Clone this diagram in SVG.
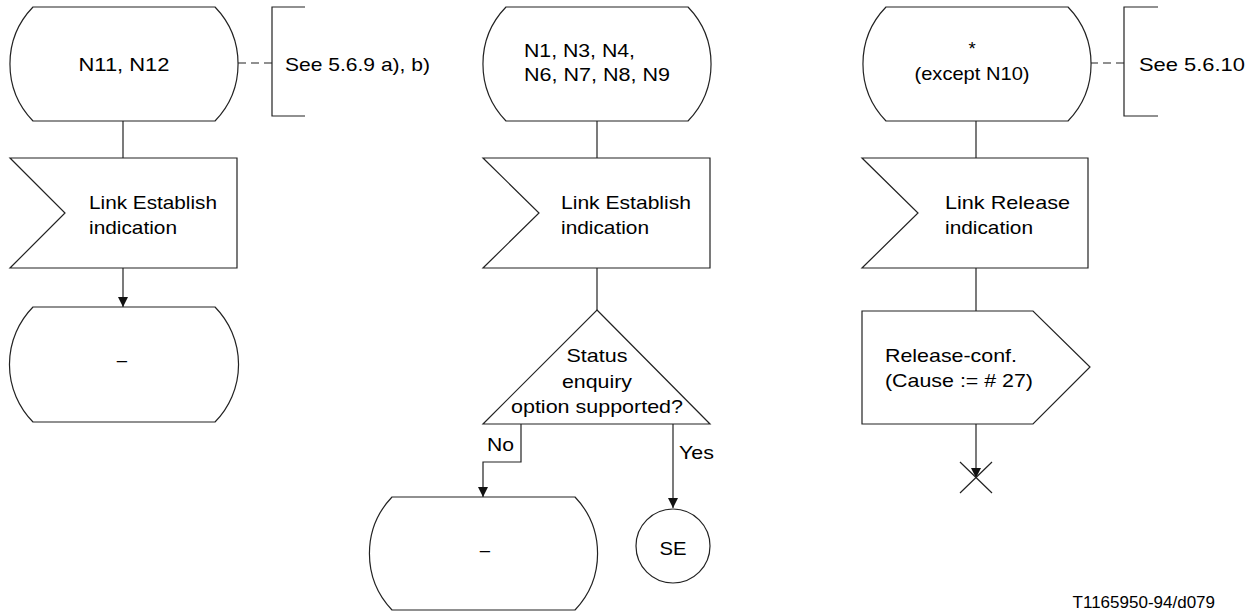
<svg xmlns="http://www.w3.org/2000/svg" width="1255" height="614" viewBox="0 0 1255 614">
<style>
.s{fill:#fff;stroke:#222;stroke-width:1.2}
.l{fill:none;stroke:#222;stroke-width:1.2}
.d{fill:none;stroke:#222;stroke-width:1.2;stroke-dasharray:8 5}
text{font-family:"Liberation Sans",Arial,sans-serif;font-size:18.5px;fill:#000}
.m{text-anchor:middle}
</style>
<defs>
<marker id="ah" markerUnits="userSpaceOnUse" markerWidth="10" markerHeight="10" refX="10" refY="5" orient="auto">
<path d="M0,0 L10,5 L0,10 Z" fill="#111"/>
</marker>
</defs>
<g id="connectors">
<path class="l" d="M123,121 V158"/>
<path class="l" d="M123,268 V307" marker-end="url(#ah)"/>
<path class="l" d="M597,121 V158"/>
<path class="l" d="M597,268 V310"/>
<path class="l" d="M521,424 V462 H483 V497" marker-end="url(#ah)"/>
<path class="l" d="M673,424 V508" marker-end="url(#ah)"/>
<path class="l" d="M976,121 V158"/>
<path class="l" d="M976,268 V311"/>
<path class="l" d="M976,424 V478" marker-end="url(#ah)"/>
<path class="d" d="M238,63 H272"/>
<path class="d" d="M1090,63 H1124"/>
</g>
<g id="state1">
<path class="s" d="M33,7 H215 A82,82 0 0 1 215,121 H33 A82,82 0 0 1 33,7 Z"/>
<text class="m" x="124" y="71" textLength="91" lengthAdjust="spacingAndGlyphs">N11, N12</text>
</g>
<g id="comment1">
<path class="l" d="M305,7 H272 V116 H305"/>
<text x="285" y="71" textLength="145" lengthAdjust="spacingAndGlyphs">See 5.6.9 a), b)</text>
</g>
<g id="input1">
<path class="s" d="M10,158 H237 V268 H10 L65,213 Z"/>
<text x="89" y="209" textLength="128" lengthAdjust="spacingAndGlyphs">Link Establish</text>
<text x="89" y="234" textLength="88" lengthAdjust="spacingAndGlyphs">indication</text>
</g>
<g id="state2">
<path class="s" d="M33,307 H215 A82,82 0 0 1 215,422 H33 A82,82 0 0 1 33,307 Z"/>
<text class="m" x="122" y="366">–</text>
</g>
<g id="state3">
<path class="s" d="M506,7 H688 A82,82 0 0 1 688,121 H506 A82,82 0 0 1 506,7 Z"/>
<text x="524" y="57" textLength="111" lengthAdjust="spacingAndGlyphs">N1, N3, N4,</text>
<text x="524" y="81" textLength="146" lengthAdjust="spacingAndGlyphs">N6, N7, N8, N9</text>
</g>
<g id="input2">
<path class="s" d="M483,158 H710 V268 H483 L539,213 Z"/>
<text x="561" y="209" textLength="130" lengthAdjust="spacingAndGlyphs">Link Establish</text>
<text x="561" y="234" textLength="88" lengthAdjust="spacingAndGlyphs">indication</text>
</g>
<g id="decision">
<path class="s" d="M597,310 L710,424 H483 Z"/>
<text class="m" x="597" y="362" textLength="61" lengthAdjust="spacingAndGlyphs">Status</text>
<text class="m" x="597" y="387.5" textLength="70" lengthAdjust="spacingAndGlyphs">enquiry</text>
<text class="m" x="597" y="413" textLength="172" lengthAdjust="spacingAndGlyphs">option supported?</text>
<text x="487" y="451" textLength="27" lengthAdjust="spacingAndGlyphs">No</text>
<text x="679" y="459" textLength="35" lengthAdjust="spacingAndGlyphs">Yes</text>
</g>
<g id="state4">
<path class="s" d="M392,497 H575 A82,82 0 0 1 575,610 H392 A82,82 0 0 1 392,497 Z"/>
<text class="m" x="485" y="556">–</text>
</g>
<g id="connectorSE">
<circle class="s" cx="673" cy="546" r="37"/>
<text class="m" x="673" y="555" textLength="27" lengthAdjust="spacingAndGlyphs">SE</text>
</g>
<g id="state5">
<path class="s" d="M886,7 H1068 A82,82 0 0 1 1068,121 H886 A82,82 0 0 1 886,7 Z"/>
<text class="m" x="972" y="55">*</text>
<text class="m" x="972" y="80" textLength="115" lengthAdjust="spacingAndGlyphs">(except N10)</text>
</g>
<g id="comment2">
<path class="l" d="M1158,7 H1124 V116 H1158"/>
<text x="1139" y="71" textLength="106" lengthAdjust="spacingAndGlyphs">See 5.6.10</text>
</g>
<g id="input3">
<path class="s" d="M862,158 H1088 V268 H862 L918,213 Z"/>
<text x="945" y="209" textLength="125" lengthAdjust="spacingAndGlyphs">Link Release</text>
<text x="945" y="234" textLength="88" lengthAdjust="spacingAndGlyphs">indication</text>
</g>
<g id="output1">
<path class="s" d="M862,311 H1033 L1090,367 L1033,424 H862 Z"/>
<text x="885" y="362" textLength="132" lengthAdjust="spacingAndGlyphs">Release-conf.</text>
<text x="885" y="387" textLength="148" lengthAdjust="spacingAndGlyphs">(Cause := # 27)</text>
</g>
<g id="stop">
<path class="l" d="M960,462 L992,493 M992,462 L960,493"/>
</g>
<text x="1215" y="608" style="text-anchor:end;font-size:17px">T1165950-94/d079</text>
</svg>
